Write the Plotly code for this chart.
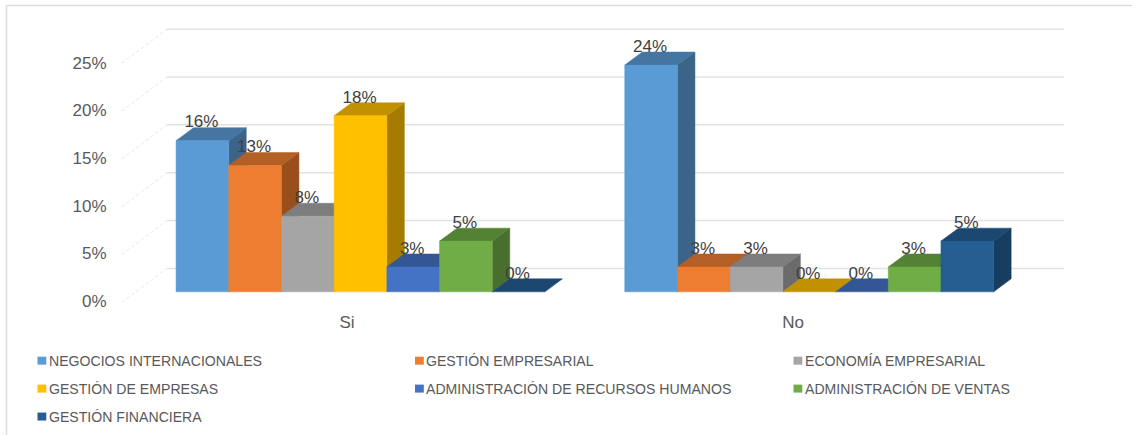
import plotly.graph_objects as go

groups = ["Si", "No"]
series_names = [
    "NEGOCIOS INTERNACIONALES",
    "GESTIÓN EMPRESARIAL",
    "ECONOMÍA EMPRESARIAL",
    "GESTIÓN DE EMPRESAS",
    "ADMINISTRACIÓN DE RECURSOS HUMANOS",
    "ADMINISTRACIÓN DE VENTAS",
    "GESTIÓN FINANCIERA",
]
si_values = [15.8, 13.2, 7.9, 18.4, 2.6, 5.3, 0.0]
no_values = [23.7, 2.6, 2.6, 0.0, 0.0, 2.6, 5.3]
y_ticks = [0, 5, 10, 15, 20, 25]

front_colors = ["#5B9BD5", "#ED7D31", "#A5A5A5", "#FFC000", "#4472C4", "#70AD47", "#255E91"]
top_colors = ["#4576A2", "#B45F25", "#7D7D7D", "#C19100", "#335694", "#548235", "#1C4770"]
side_colors = ["#3C6488", "#9A4F1B", "#6B6B6B", "#A57C00", "#2C4A80", "#486F2D", "#173D60"]

W, H = 1132, 436
PX_L, PX_R, PX_T, PX_B = 121, 1066, 20, 303
PX_PER_GROUP = 448.7
PX_SI = 360.5
PX_PER_PCT = 9.59
PX_BASE = 292.5
BAR_W = 52.7 / PX_PER_GROUP
DEPTH_X = 17.5 / PX_PER_GROUP
DEPTH_Y = 13 / PX_PER_PCT
WALL_Y = 23.5 / PX_PER_PCT
GRID = "#E3E3E3"
TEXT = "#595959"


def to_x(px):
    return (px - PX_SI) / PX_PER_GROUP


fig = go.Figure()


def poly(xs, ys, color, name=None, hover=None):
    fig.add_trace(go.Scatter(
        x=xs, y=ys, mode="lines", fill="toself", fillcolor=color,
        line=dict(color=color, width=0.5), showlegend=False, name=name,
        hoverinfo="skip" if hover is None else "text", text=hover,
    ))


# back wall gridlines and dotted floor/side diagonals
for t in y_ticks:
    fig.add_trace(go.Scatter(
        x=[to_x(167), to_x(1064)], y=[t + WALL_Y, t + WALL_Y], mode="lines",
        line=dict(color=GRID, width=1.5), showlegend=False, hoverinfo="skip",
    ))
    fig.add_trace(go.Scatter(
        x=[to_x(122), to_x(167)], y=[t - 1.09, t + WALL_Y], mode="lines",
        line=dict(color=GRID, width=1, dash="dot"), showlegend=False, hoverinfo="skip",
    ))

# bars: side, top and front face of each, painted left to right
n = len(series_names)
for i, name in enumerate(series_names):
    for g, vals in enumerate([si_values, no_values]):
        v = vals[i]
        x0 = g + (i - n / 2) * BAR_W
        x1 = x0 + BAR_W
        if v > 0:
            poly([x1, x1 + DEPTH_X, x1 + DEPTH_X, x1, x1],
                 [0, DEPTH_Y, v + DEPTH_Y, v, 0], side_colors[i])
        poly([x0, x1, x1 + DEPTH_X, x0 + DEPTH_X, x0],
             [v, v, v + DEPTH_Y, v + DEPTH_Y, v], top_colors[i])
        if v > 0:
            poly([x0, x1, x1, x0, x0], [0, 0, v, v, 0], front_colors[i],
                 name=name, hover=f"{name}<br>{groups[g]}: {v:.0f}%")

# value labels
for g, vals in enumerate([si_values, no_values]):
    fig.add_trace(go.Scatter(
        x=[g + (i - n / 2 + 0.5) * BAR_W - 1 / PX_PER_GROUP for i in range(n)],
        y=[v + 17.5 / PX_PER_PCT for v in vals],
        text=[f"{v:.0f}%" for v in vals],
        mode="text", textposition="middle center",
        textfont=dict(family="Liberation Sans", size=17, color="#404040"),
        showlegend=False, hoverinfo="skip",
    ))

# carrier for the front-plane tick axes
fig.add_trace(go.Scatter(x=[0, 1], y=[0, 25], xaxis="x2", yaxis="y2", mode="markers",
                         marker=dict(opacity=0), showlegend=False, hoverinfo="skip"))

dom_x = [PX_L / W, PX_R / W]
dom_y = [1 - PX_B / H, 1 - PX_T / H]
tick_font = dict(family="Liberation Sans", size=17, color=TEXT)
fig.update_layout(
    width=W, height=H + 8, margin=dict(l=0, r=0, t=0, b=0),
    paper_bgcolor="white", plot_bgcolor="rgba(0,0,0,0)", showlegend=False,
    xaxis=dict(domain=dom_x, range=[to_x(PX_L), to_x(PX_R)], visible=False, fixedrange=True),
    yaxis=dict(domain=dom_y, range=[(PX_BASE - PX_B) / PX_PER_PCT, (PX_BASE - PX_T) / PX_PER_PCT],
               visible=False, fixedrange=True),
    xaxis2=dict(domain=dom_x, overlaying="x", anchor="y2", showgrid=False, zeroline=False,
                range=[(PX_L - 347) / 446, (PX_R - 347) / 446],
                tickvals=[0, 1], ticktext=groups, tickfont=tick_font,
                ticks="outside", ticklen=4, tickcolor="rgba(0,0,0,0)", showline=False, fixedrange=True),
    yaxis2=dict(domain=dom_y, overlaying="y", anchor="x2", showgrid=False, zeroline=False,
                range=[(301.7 - PX_B) / 9.55, (301.7 - PX_T) / 9.55],
                tickvals=y_ticks, ticktext=[f"{t}%" for t in y_ticks], tickfont=tick_font,
                ticks="outside", ticklen=10, tickcolor="rgba(0,0,0,0)", showline=False, fixedrange=True),
)

# outer frame
fig.add_shape(type="line", xref="paper", yref="paper", x0=6.5 / W, x1=6.5 / W, y0=0, y1=1 - 5.5 / H,
              line=dict(color="#DDDDDD", width=1.5))
fig.add_shape(type="line", xref="paper", yref="paper", x0=6.5 / W, x1=1, y0=1 - 5.5 / H, y1=1 - 5.5 / H,
              line=dict(color="#DDDDDD", width=1.5))

# legend in three columns
col_px = [37.5, 415, 793.5]
row_px = [362, 390, 418]
for i, name in enumerate(series_names):
    cx, cy = col_px[i % 3], row_px[i // 3]
    fig.add_shape(type="rect", xref="paper", yref="paper", line=dict(width=0),
                  x0=cx / W, x1=(cx + 8.8) / W, y0=1 - (cy + 3.5) / H, y1=1 - (cy - 4.5) / H,
                  fillcolor=front_colors[i])
    fig.add_annotation(xref="paper", yref="paper", x=(cx + 10) / W, y=1 - cy / H,
                       xanchor="left", yanchor="middle", showarrow=False, text=name,
                       borderpad=0, font=dict(family="Liberation Sans", size=14.1, color=TEXT))

fig.write_html("out.html", config={"displayModeBar": False},
               post_script="document.body.style.margin='0';")
